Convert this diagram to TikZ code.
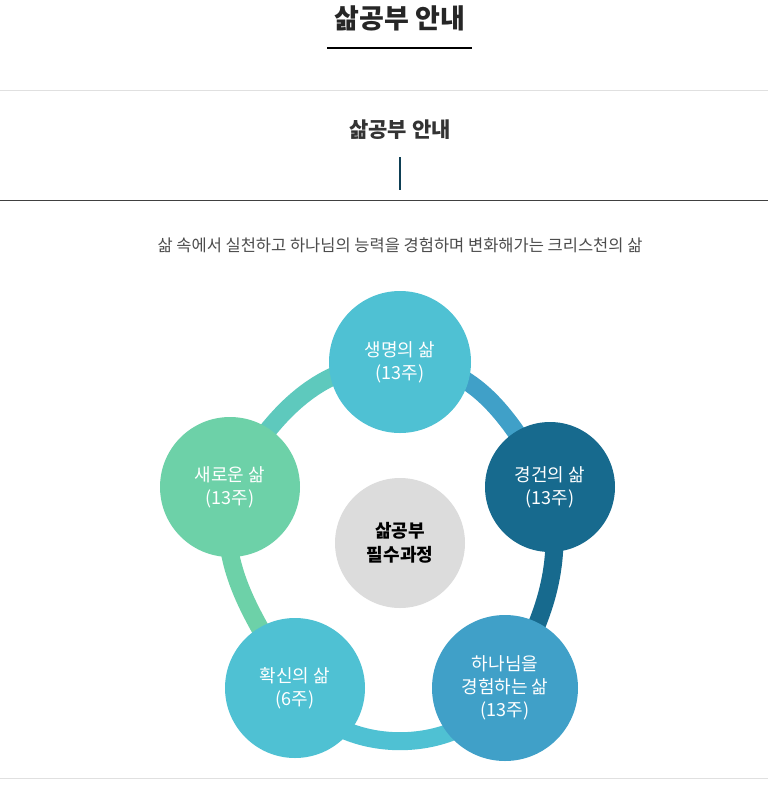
\documentclass[tikz,border=0pt]{standalone}
\usepackage{fontspec}
\setmainfont{Noto Sans CJK KR}
\definecolor{cyanA}{HTML}{4FC1D3}
\definecolor{navyB}{HTML}{176A8E}
\definecolor{blueC}{HTML}{40A0C8}
\definecolor{greenD}{HTML}{6DD1A8}
\definecolor{grayE}{HTML}{DCDCDC}
\tikzset{
  stage/.style={circle, fill=#1, text=white, minimum size=140pt, inner sep=0pt,
    align=center, font=\fontsize{18}{23}\selectfont},
  ring/.style={line width=18pt, #1},
}
\begin{document}
\begin{tikzpicture}[x=1pt,y=-1pt]
    \useasboundingbox (0,0) rectangle (768,785);
    % headings
    \node[font=\fontsize{27}{30}\selectfont\bfseries, text=black!85] (title) at (400,18) {삶공부 안내};
    \draw[line width=2.5pt] (327,48) -- (472,48);
    \draw[black!12] (0,90) -- (768,90);
    \node[font=\fontsize{21}{25}\selectfont\bfseries, text=black!80] (subtitle) at (400,130) {삶공부 안내};
    \draw[line width=2pt, navyB!60!black] (400,157) -- (400,190);
    \draw[black!75, line width=1pt] (0,200) -- (768,200);
    \node[font=\fontsize{16.5}{20}\selectfont, text=black!70] (motto) at (400,245)
      {삶 속에서 실천하고 하나님의 능력을 경험하며 변화해가는 크리스천의 삶};
    % ring
    \coordinate (pa) at (400,362);
    \coordinate (pb) at (550,487);
    \coordinate (pc) at (505,688);
    \coordinate (pd) at (295,688);
    \coordinate (pe) at (230,487);
    \draw[ring=blueC] (pa) to[out=0,in=120] (pb);
    \draw[ring=navyB] (pb) to[out=-80,in=60] (pc);
    \draw[ring=cyanA] (pc) to[out=-120,in=-60] (pd);
    \draw[ring=greenD] (pd) to[out=120,in=-100] (pe);
    \draw[ring=greenD!50!cyanA] (pe) to[out=60,in=180] (pa);
    % stages
    \node[stage=cyanA, minimum size=142pt] (life) at (pa) {생명의 삶\\(13주)};
    \node[stage=navyB, minimum size=130pt] (piety) at (pb) {경건의 삶\\(13주)};
    \node[stage=blueC, minimum size=146pt] (god) at (pc) {하나님을\\경험하는 삶\\(13주)};
    \node[stage=cyanA] (faith) at (pd) {확신의 삶\\(6주)};
    \node[stage=greenD] (new) at (pe) {새로운 삶\\(13주)};
    \node[circle, fill=grayE, minimum size=130pt, align=center,
      font=\fontsize{18}{24}\selectfont\bfseries] (core) at (400,543) {삶공부\\필수과정};
    \draw[black!12] (0,778) -- (768,778);
\end{tikzpicture}
\end{document}
